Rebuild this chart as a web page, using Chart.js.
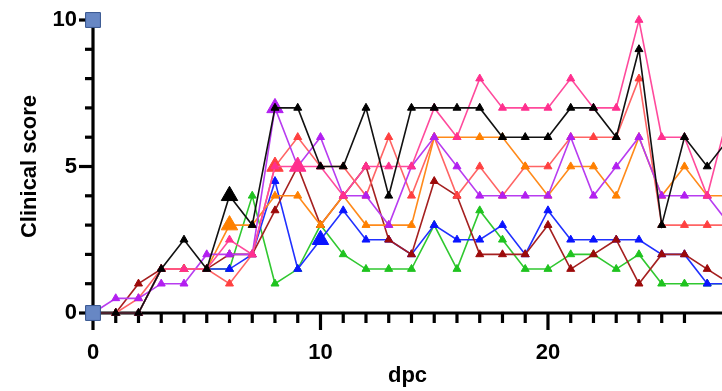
<!DOCTYPE html>
<html><head><meta charset="utf-8">
<style>html,body{margin:0;padding:0;background:#fff;overflow:hidden}#wrap{width:722px;height:391px}</style>
<script src="https://cdn.jsdelivr.net/npm/chart.js@4/dist/chart.umd.min.js"></script>
</head><body><div id="wrap"><canvas id="c" width="722" height="391"></canvas></div>
<script>
// ---- data ----
const days = [0,1,2,3,4,5,6,7,8,9,10,11,12,13,14,15,16,17,18,19,20,21,22,23,24,25,26,27,28];
const blackScores   = [0,0,0,1.5,2.5,1.5,4,3,7,7,5,5,7,4,7,7,7,7,6,6,6,7,7,6,9,3,6,5,6];
const pinkScores    = [0,0,0,1.5,1.5,1.5,2.5,2,5,5,5,4,5,5,5,7,6,8,7,7,7,8,7,7,10,6,6,4,7];
const purpleScores  = [0,0.5,0.5,1,1,2,2,2,7,5,6,4,4,3,5,6,5,4,4,4,4,6,4,5,6,4,4,4,3];
const orangeScores  = [0,0,0,1.5,1.5,1.5,3,3,4,4,3,4,3,3,3,6,6,6,6,5,4,5,5,4,6,4,5,4,4];
const redScores     = [0,0,0.5,1.5,1.5,1.5,1,2,5,6,5,5,4,6,4,6,4,5,4,5,5,6,6,6,8,3,3,3,3];
const darkredScores = [0,0,1,1.5,1.5,1.5,2,2,3.5,5,3,4,5,2.5,2,4.5,4,2,2,2,3,1.5,2,2.5,1,2,2,1.5,1];
const blueScores    = [0,0,0,1.5,1.5,1.5,1.5,2,4.5,1.5,2.5,3.5,2.5,2.5,2,3,2.5,2.5,3,2,3.5,2.5,2.5,2.5,2.5,2,2,1,1];
const greenScores   = [0,0,0,1.5,1.5,1.5,1.5,4,1,1.5,3,2,1.5,1.5,1.5,3,1.5,3.5,2.5,1.5,1.5,2,2,1.5,2,1,1,1,1];
const axisEndX = [0, 0];
const axisEndY = [0, 10];
const yTickLabels = [0, 5, 10];
const xTickLabels = [0, 10, 20];

// ---- styles ----
const series = [
  {name:'black',   vals: blackScores,   color:'#000000', line:'#111111', big: 6},
  {name:'pink',    vals: pinkScores,    color:'#ff2f8e', line:'#ff4a9c', big: 9},
  {name:'purple',  vals: purpleScores,  color:'#b21ff0', line:'#b83cf0', big: 8},
  {name:'orange',  vals: orangeScores,  color:'#ff8000', line:'#ff8a1a', big: 6},
  {name:'red',     vals: redScores,     color:'#ff4040', line:'#ff6464', big: 8},
  {name:'darkred', vals: darkredScores, color:'#9c0a0a', line:'#a52020', big: -1},
  {name:'blue',    vals: blueScores,    color:'#0a14ff', line:'#2030ff', big: 10},
  {name:'green',   vals: greenScores,   color:'#1fc31f', line:'#30c830', big: -1}
];
const FONT = 'Liberation Sans, Arial, Helvetica, sans-serif';

const datasets = series.map(s => ({
  label: s.name,
  data: days.map((d, i) => ({x: d, y: s.vals[i]})),
  borderColor: s.line,
  backgroundColor: s.color,
  pointBackgroundColor: s.color,
  pointBorderColor: s.color,
  borderWidth: 1.6,
  pointStyle: 'triangle',
  pointRadius: ctx => ctx.dataIndex === s.big ? 9.5 : 4.6,
  pointBorderWidth: 1,
  tension: 0,
  clip: false
}));
datasets.unshift({
  label: 'axis ends',
  type: 'scatter',
  data: axisEndX.map((x, i) => ({x, y: axisEndY[i]})),
  showLine: false,
  pointStyle: 'rect',
  pointRadius: 10.5,
  pointBackgroundColor: '#6787c4',
  pointBorderColor: '#36558f',
  pointBorderWidth: 1,
  clip: false
});

const axesPlugin = {
  id: 'prismAxes',
  beforeDatasetsDraw(chart) {
    const {ctx, scales: {x, y}} = chart;
    const x0 = x.getPixelForValue(0), y0 = y.getPixelForValue(0), yTop = y.getPixelForValue(10);
    ctx.save();
    ctx.strokeStyle = '#000';
    ctx.lineWidth = 3.2;
    ctx.lineCap = 'butt';
    const seg = (a, b, c, d) => { ctx.beginPath(); ctx.moveTo(a, b); ctx.lineTo(c, d); ctx.stroke(); };
    seg(x0, yTop - 1.6, x0, y0 + 1.6);
    seg(x0 - 1.6, y0, chart.width, y0);
    y.ticks.forEach(t => {
      if (!Number.isInteger(t.value)) return;
      const py = y.getPixelForValue(t.value);
      const len = yTickLabels.includes(t.value) ? 14 : 8;
      seg(x0, py, x0 - len, py);
    });
    x.ticks.forEach(t => {
      if (!Number.isInteger(t.value)) return;
      const px = x.getPixelForValue(t.value);
      const len = xTickLabels.includes(t.value) ? 17 : 10;
      seg(px, y0, px, y0 + len);
    });
    ctx.restore();
  }
};

new Chart(document.getElementById('c'), {
  type: 'line',
  data: { datasets },
  options: {
    responsive: false,
    animation: false,
    devicePixelRatio: 1,
    layout: { autoPadding: false, padding: { top: 20, right: 0, left: 0, bottom: 0 } },
    plugins: { legend: { display: false }, tooltip: { enabled: false } },
    scales: {
      x: {
        type: 'linear', min: 0, max: 27.65,
        afterBuildTicks: sc => { sc.ticks = sc.ticks.filter(t => Number.isInteger(t.value)); },
        afterFit: sc => { sc.height = 78; sc.paddingLeft = 0; sc.paddingRight = 0; },
        grid: { display: false, drawTicks: false },
        border: { display: false },
        ticks: {
          stepSize: 1, autoSkip: false, maxRotation: 0, padding: 27,
          color: '#000', font: { family: FONT, size: 22, weight: 'bold' },
          callback: v => xTickLabels.includes(v) ? String(v) : ''
        },
        title: { display: true, text: 'dpc', color: '#000',
          font: { family: FONT, size: 22, weight: 'bold' }, padding: { top: 0, bottom: 2 } }
      },
      y: {
        type: 'linear', min: 0, max: 10,
        afterFit: sc => { sc.width = 93; sc.paddingTop = 0; sc.paddingBottom = 0; },
        grid: { display: false, drawTicks: false },
        border: { display: false },
        ticks: {
          stepSize: 1, autoSkip: false, padding: 16,
          color: '#000', font: { family: FONT, size: 22, weight: 'bold' },
          callback: v => yTickLabels.includes(v) ? String(v) : ''
        },
        title: { display: true, text: 'Clinical score', color: '#000',
          font: { family: FONT, size: 22, weight: 'bold' }, padding: { top: 17, bottom: 0 } }
      }
    }
  },
  plugins: [axesPlugin]
});
</script></body></html>
